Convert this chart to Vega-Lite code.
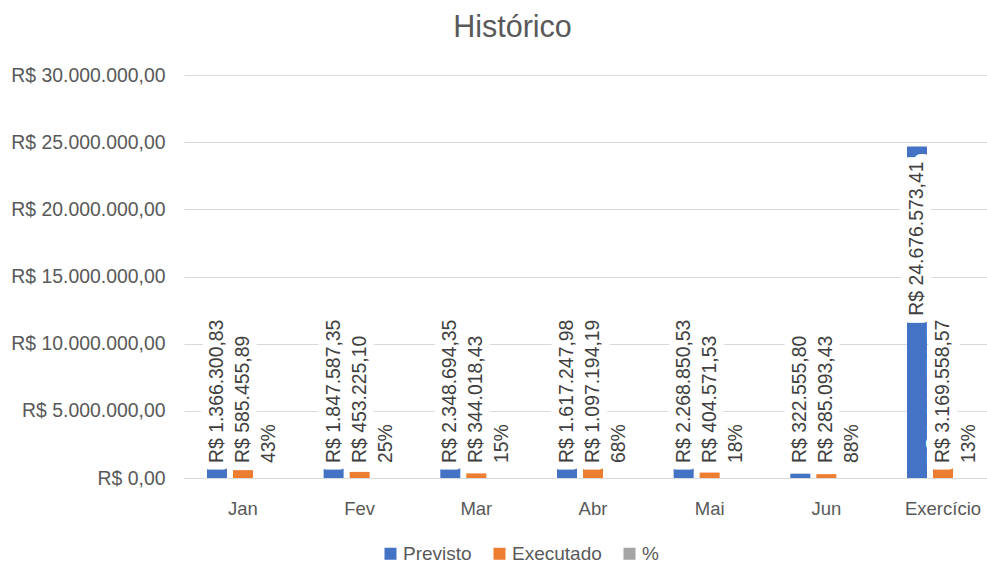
{
  "$schema": "https://vega.github.io/schema/vega-lite/v6.json",
  "width": 803,
  "height": 403,
  "autosize": "none",
  "padding": {"left": 184, "top": 75, "right": 0, "bottom": 85},
  "background": "white",
  "config": {
    "locale": {"number": {"decimal": ",", "thousands": ".", "grouping": [3], "currency": ["R$ ", ""]}},
    "view": {"stroke": null},
    "font": "Liberation Sans",
    "axis": {"labelFont": "Liberation Sans", "labelColor": "#595959"},
    "legend": {"labelFont": "Liberation Sans"}
  },
  "title": {"text": "Histórico", "fontSize": 30.5, "font": "Liberation Sans", "fontWeight": "normal", "color": "#595959", "anchor": "middle", "dx": -73, "offset": -2, "baseline": "alphabetic"},
  "data": {"values": [
    {"mes": "Jan", "serie": "Previsto", "valor": 1366300.83},
    {"mes": "Jan", "serie": "Executado", "valor": 585455.89},
    {"mes": "Jan", "serie": "%", "valor": 0.43},
    {"mes": "Fev", "serie": "Previsto", "valor": 1847587.35},
    {"mes": "Fev", "serie": "Executado", "valor": 453225.10},
    {"mes": "Fev", "serie": "%", "valor": 0.25},
    {"mes": "Mar", "serie": "Previsto", "valor": 2348694.35},
    {"mes": "Mar", "serie": "Executado", "valor": 344018.43},
    {"mes": "Mar", "serie": "%", "valor": 0.15},
    {"mes": "Abr", "serie": "Previsto", "valor": 1617247.98},
    {"mes": "Abr", "serie": "Executado", "valor": 1097194.19},
    {"mes": "Abr", "serie": "%", "valor": 0.68},
    {"mes": "Mai", "serie": "Previsto", "valor": 2268850.53},
    {"mes": "Mai", "serie": "Executado", "valor": 404571.53},
    {"mes": "Mai", "serie": "%", "valor": 0.18},
    {"mes": "Jun", "serie": "Previsto", "valor": 322555.80},
    {"mes": "Jun", "serie": "Executado", "valor": 285093.43},
    {"mes": "Jun", "serie": "%", "valor": 0.88},
    {"mes": "Exercício", "serie": "Previsto", "valor": 24676573.41},
    {"mes": "Exercício", "serie": "Executado", "valor": 3169558.57},
    {"mes": "Exercício", "serie": "%", "valor": 0.13}
  ]},
  "encoding": {
    "x": {"field": "mes", "type": "nominal", "sort": ["Jan", "Fev", "Mar", "Abr", "Mai", "Jun", "Exercício"],
      "scale": {"paddingInner": 0.3314, "paddingOuter": 0.107, "align": 0.8},
      "axis": {"title": null, "labelAngle": 0, "ticks": false, "tickSize": 0, "domainColor": "#D9D9D9", "labelPadding": 21, "labelFontSize": 18.5, "grid": false}},
    "xOffset": {"field": "serie", "type": "nominal", "sort": ["Previsto", "Executado", "%"],
      "scale": {"domain": ["Previsto", "Executado", "%"], "paddingInner": 0.2308, "paddingOuter": 0.115}}
  },
  "layer": [
    {
      "mark": {"type": "bar"},
      "encoding": {
        "y": {"field": "valor", "type": "quantitative", "scale": {"domain": [0, 30000000]},
          "axis": {"title": null, "values": [0, 5000000, 10000000, 15000000, 20000000, 25000000, 30000000], "format": "$,.2f", "domain": false, "ticks": false, "tickSize": 0, "labelPadding": 19, "labelFontSize": 19.4, "gridColor": "#D9D9D9", "gridWidth": 1}},
        "color": {"field": "serie", "type": "nominal",
          "scale": {"domain": ["Previsto", "Executado", "%"], "range": ["#4472C4", "#ED7D31", "#A5A5A5"]},
          "legend": {"title": null, "orient": "none", "legendX": 197, "legendY": 469, "direction": "horizontal", "symbolType": "square", "symbolSize": 144, "symbolStrokeWidth": 0, "symbolOpacity": 1, "labelFontSize": 19, "labelColor": "#595959", "columnPadding": 18, "labelOffset": 3, "padding": 0}}
      }
    },
    {
      "transform": [{"filter": "datum.serie !== '%' && !(datum.mes === 'Exercício' && datum.serie === 'Previsto')"}],
      "mark": {"type": "text", "angle": 270, "align": "left", "baseline": "middle", "dx": 15, "fontSize": 19.4, "fill": "white", "stroke": "white", "strokeWidth": 16, "strokeJoin": "round"},
      "encoding": {"y": {"datum": 0, "type": "quantitative"}, "text": {"field": "valor", "type": "quantitative", "format": "$,.2f"}}
    },
    {
      "transform": [{"filter": "datum.serie === '%'"}],
      "mark": {"type": "text", "angle": 270, "align": "left", "baseline": "middle", "dx": 15, "fontSize": 19.4, "fill": "white", "stroke": "white", "strokeWidth": 16, "strokeJoin": "round"},
      "encoding": {"y": {"datum": 0, "type": "quantitative"}, "text": {"field": "valor", "type": "quantitative", "format": ".0%"}}
    },
    {
      "transform": [{"filter": "datum.mes === 'Exercício' && datum.serie === 'Previsto'"}],
      "mark": {"type": "text", "angle": 270, "align": "right", "baseline": "middle", "dx": -15, "fontSize": 19.4, "fill": "white", "stroke": "white", "strokeWidth": 17, "strokeJoin": "round"},
      "encoding": {"y": {"field": "valor", "type": "quantitative"}, "text": {"field": "valor", "type": "quantitative", "format": "$,.2f"}}
    },
    {
      "transform": [{"filter": "datum.serie !== '%' && !(datum.mes === 'Exercício' && datum.serie === 'Previsto')"}],
      "mark": {"type": "text", "angle": 270, "align": "left", "baseline": "middle", "dx": 15, "fontSize": 19.4, "fill": "#404040"},
      "encoding": {"y": {"datum": 0, "type": "quantitative"}, "text": {"field": "valor", "type": "quantitative", "format": "$,.2f"}}
    },
    {
      "transform": [{"filter": "datum.serie === '%'"}],
      "mark": {"type": "text", "angle": 270, "align": "left", "baseline": "middle", "dx": 15, "fontSize": 19.4, "fill": "#404040"},
      "encoding": {"y": {"datum": 0, "type": "quantitative"}, "text": {"field": "valor", "type": "quantitative", "format": ".0%"}}
    },
    {
      "transform": [{"filter": "datum.mes === 'Exercício' && datum.serie === 'Previsto'"}],
      "mark": {"type": "text", "angle": 270, "align": "right", "baseline": "middle", "dx": -15, "fontSize": 19.4, "fill": "#404040"},
      "encoding": {"y": {"field": "valor", "type": "quantitative"}, "text": {"field": "valor", "type": "quantitative", "format": "$,.2f"}}
    }
  ]
}
